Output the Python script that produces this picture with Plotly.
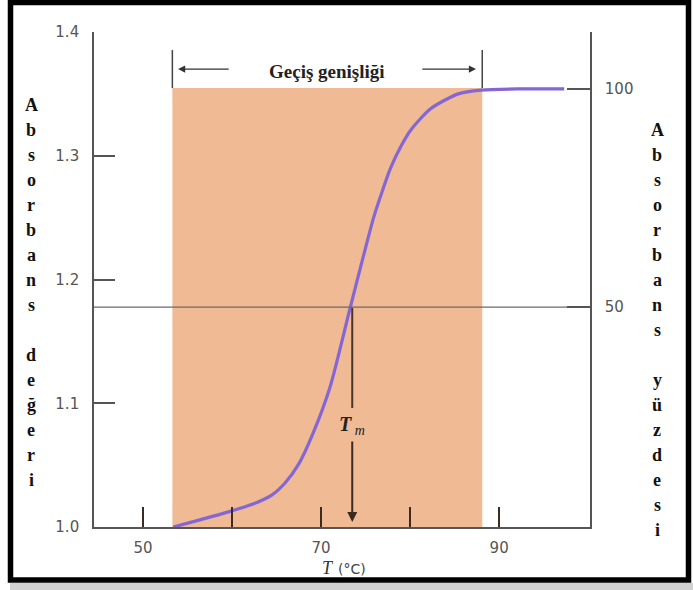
import plotly.graph_objects as go

# ---- data ----
temps = [53.4, 56.5, 59.5, 62.5, 64.5, 66.0, 67.5, 69.0, 71.0, 73.3, 75.9, 76.9, 77.8, 79.0, 80.1, 82.3, 85.4, 88.0, 92.0, 97.3]
absorb = [1.000, 1.006, 1.012, 1.019, 1.026, 1.036, 1.051, 1.074, 1.113, 1.178, 1.250, 1.272, 1.290, 1.308, 1.321, 1.338, 1.350, 1.353, 1.354, 1.354]
x_ticks = [50, 60, 70, 80, 90]
x_ticktext = ["50", "", "70", "", "90"]
y_ticks = [1.0, 1.1, 1.2, 1.3, 1.4]
y_ticktext = ["1.0", "1.1", "1.2", "1.3", "1.4"]
y2_ticks = [50, 100]
y2_ticktext = ["50", "100"]
trans_start, trans_end = 53.3, 88.1
tm = 73.5
plateau_abs = 1.3547
half_pct = 50
left_title = "Absorbans değeri"
right_title = "Absorbans yüzdesi"
band_label = "Geçiş genişliği"

W, H = 693, 590
ML, MR, MT, MB = 94, 103, 32, 63
XR = [44.5, 100.2]
YR = [1.0, 1.4]
Y2R = [-0.46, 113.1]

AX = "#555555"
TICKFONT = dict(family="DejaVu Sans", size=15, color="#555555")
SERIF = "Liberation Serif"

def px_to_paper_x(px):
    return (px - ML) / (W - ML - MR)

def px_to_paper_y(py):
    return (H - MB - py) / (H - MT - MB)

fig = go.Figure()

# 50% line on the right axis
fig.add_trace(go.Scatter(x=XR, y=[half_pct, half_pct], yaxis="y2", mode="lines",
                         line=dict(color="#6a6a6a", width=1.2), hoverinfo="skip", showlegend=False))
# melting curve
fig.add_trace(go.Scatter(x=temps, y=absorb, mode="lines",
                         line=dict(color="#8466d4", width=3.2, shape="spline", smoothing=0.7),
                         showlegend=False))

shapes = []
shapes.append(dict(type="rect", xref="x", yref="y", x0=trans_start, x1=trans_end,
                   y0=YR[0], y1=plateau_abs, fillcolor="#efba94", line=dict(width=0), layer="below"))
for xv in (trans_start, trans_end):
    shapes.append(dict(type="line", xref="x", yref="y", x0=xv, x1=xv, y0=plateau_abs, y1=1.3855,
                       line=dict(color="#444444", width=1.5)))
shapes.append(dict(type="line", xref="x", yref="y", x0=tm, x1=tm, y0=1.177, y1=1.0962,
                   line=dict(color="#4a3528", width=2)))
shapes.append(dict(type="rect", xref="paper", yref="paper",
                   x0=px_to_paper_x(10.5), x1=px_to_paper_x(688.5),
                   y0=px_to_paper_y(580), y1=px_to_paper_y(2.5),
                   line=dict(color="black", width=5.5), fillcolor="rgba(0,0,0,0)", layer="above"))
shapes.append(dict(type="rect", xref="paper", yref="paper",
                   x0=px_to_paper_x(10), x1=px_to_paper_x(693),
                   y0=px_to_paper_y(590), y1=px_to_paper_y(583),
                   line=dict(width=0), fillcolor="rgba(150,150,150,0.45)", layer="below"))

ann = []
ann.append(dict(x=70.7, y=1.3677, xref="x", yref="y", text="<b>" + band_label + "</b>",
                xanchor="center", yanchor="middle",
                showarrow=False, font=dict(family=SERIF, size=19, color="#222222")))
ann.append(dict(x=53.94, y=1.370, ax=59.8, ay=1.370, xref="x", yref="y", axref="x", ayref="y",
                text="", showarrow=True, arrowhead=2, arrowsize=1.1, arrowwidth=1.3, arrowcolor="#333333"))
ann.append(dict(x=87.4, y=1.370, ax=81.2, ay=1.370, xref="x", yref="y", axref="x", ayref="y",
                text="", showarrow=True, arrowhead=2, arrowsize=1.1, arrowwidth=1.3, arrowcolor="#333333"))
ann.append(dict(x=tm, y=1.004, ax=tm, ay=1.0703, xref="x", yref="y", axref="x", ayref="y",
                text="", showarrow=True, arrowhead=2, arrowsize=1.0, arrowwidth=2, arrowcolor="#3a2a20"))
ann.append(dict(x=tm, y=1.0824, xref="x", yref="y", xanchor="center", yanchor="middle",
                text="<b><i>T</i></b><i><sub> m</sub></i>", showarrow=False,
                font=dict(family=SERIF, size=20, color="#222222")))
ann.append(dict(x=px_to_paper_x(328), y=px_to_paper_y(568), xref="paper", yref="paper",
                xanchor="center", yanchor="middle",
                text="<i>T</i>", showarrow=False, font=dict(family=SERIF, size=18, color="#333333")))
ann.append(dict(x=px_to_paper_x(352), y=px_to_paper_y(569), xref="paper", yref="paper",
                xanchor="center", yanchor="middle",
                text="(°C)", showarrow=False, font=dict(family="DejaVu Sans", size=14, color="#444444")))

def stacked(text, px_x, py_start, step):
    for i, ch in enumerate(text):
        if ch == " ":
            continue
        ann.append(dict(x=px_to_paper_x(px_x), y=px_to_paper_y(py_start + i * step),
                        xref="paper", yref="paper", xanchor="center", yanchor="middle",
                        text="<b>" + ch + "</b>", showarrow=False,
                        font=dict(family=SERIF, size=18, color="#111111")))

stacked(left_title, 31, 105, 25)
stacked(right_title, 657, 130, 25)

fig.update_layout(
    width=W, height=H, margin=dict(l=ML, r=MR, t=MT, b=MB),
    paper_bgcolor="white", plot_bgcolor="white",
    shapes=shapes, annotations=ann, showlegend=False,
    xaxis=dict(range=XR, tickvals=x_ticks, ticktext=x_ticktext, ticks="inside", ticklen=20,
               tickwidth=1.6, tickcolor="#3d2b1f", showline=True, linecolor=AX, linewidth=1.6,
               showgrid=False, zeroline=False, tickfont=TICKFONT, ticklabelstandoff=6),
    yaxis=dict(range=YR, tickvals=y_ticks, ticktext=y_ticktext, ticks="inside", ticklen=21,
               tickwidth=1.5, tickcolor=AX, showline=True, linecolor=AX, linewidth=1.6,
               showgrid=False, zeroline=False, tickfont=TICKFONT, ticklabelstandoff=10),
    yaxis2=dict(range=Y2R, overlaying="y", side="right", anchor="x", tickvals=y2_ticks,
                ticktext=y2_ticktext, ticks="inside", ticklen=23, tickwidth=1.5, tickcolor=AX,
                showline=True, linecolor=AX, linewidth=1.6, showgrid=False, zeroline=False,
                tickfont=TICKFONT, ticklabelstandoff=10),
)

fig.write_html("out.html")
